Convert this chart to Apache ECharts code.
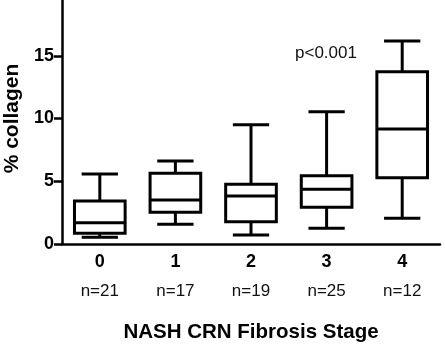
<!DOCTYPE html>
<html>
<head>
<meta charset="utf-8">
<script src="https://cdn.jsdelivr.net/npm/echarts@6/dist/echarts.min.js"></script>
<style>
  html, body { margin: 0; padding: 0; background: #fff; }
  #chart { width: 445px; height: 351px; }
</style>
</head>
<body>
<div id="chart"></div>
<script>
// fibrosis stages and sample sizes
const stages = ['0', '1', '2', '3', '4'];
const nCounts = ['n=21', 'n=17', 'n=19', 'n=25', 'n=12'];
// box plot values, % collagen
const whiskerLow = [0.53, 1.57, 0.72, 1.25, 2.05];
const q1 = [0.85, 2.52, 1.78, 2.92, 5.28];
const median = [1.70, 3.50, 3.82, 4.36, 9.16];
const q3 = [3.43, 5.63, 4.76, 5.44, 13.73];
const whiskerHigh = [5.58, 6.61, 9.50, 10.54, 16.18];
const yTicks = [0, 5, 10, 15, 20];

const FONT = '"Liberation Sans", Arial, sans-serif';

const boxData = stages.map((s, i) => [i, whiskerLow[i], q1[i], median[i], q3[i], whiskerHigh[i]]);

function renderBox(params, api) {
  const i = api.value(0);
  const band = api.size([1, 0])[0];
  const halfBox = band * 0.335;
  const halfCap = band * 0.24;
  const pLow = api.coord([i, api.value(1)]);
  const pQ1 = api.coord([i, api.value(2)]);
  const pMed = api.coord([i, api.value(3)]);
  const pQ3 = api.coord([i, api.value(4)]);
  const pHigh = api.coord([i, api.value(5)]);
  const cx = pMed[0];
  const st = { stroke: '#000', lineWidth: 3, fill: null };
  return {
    type: 'group',
    children: [
      { type: 'rect', shape: { x: cx - halfBox, y: pQ3[1], width: halfBox * 2, height: pQ1[1] - pQ3[1] }, style: st },
      { type: 'line', shape: { x1: cx - halfBox, y1: pMed[1], x2: cx + halfBox, y2: pMed[1] }, style: st },
      { type: 'line', shape: { x1: cx, y1: pQ3[1], x2: cx, y2: pHigh[1] }, style: st },
      { type: 'line', shape: { x1: cx, y1: pQ1[1], x2: cx, y2: pLow[1] }, style: st },
      { type: 'line', shape: { x1: cx - halfCap, y1: pHigh[1], x2: cx + halfCap, y2: pHigh[1] }, style: st },
      { type: 'line', shape: { x1: cx - halfCap, y1: pLow[1], x2: cx + halfCap, y2: pLow[1] }, style: st }
    ]
  };
}

const chart = echarts.init(document.getElementById('chart'));
chart.setOption({
  animation: false,
  grid: { left: 62, right: 5, top: -7, bottom: 107, containLabel: false, outerBoundsMode: 'none' },
  xAxis: {
    type: 'category',
    data: stages,
    boundaryGap: true,
    axisLine: { lineStyle: { color: '#000', width: 2.5 } },
    axisTick: { alignWithLabel: true, length: 6, lineStyle: { color: '#000', width: 2.5 } },
    axisLabel: {
      margin: 7,
      interval: 0,
      formatter: (v, i) => '{s|' + v + '}\n{n|' + nCounts[i] + '}',
      rich: {
        s: { fontFamily: FONT, fontSize: 18, fontWeight: 'bold', color: '#000', lineHeight: 22 },
        n: { fontFamily: FONT, fontSize: 17, color: '#111', lineHeight: 36 }
      }
    },
    name: 'NASH CRN Fibrosis Stage',
    nameLocation: 'middle',
    nameGap: 78,
    nameTextStyle: { fontFamily: FONT, fontSize: 20.5, fontWeight: 'bold', color: '#000' }
  },
  yAxis: {
    type: 'value',
    min: yTicks[0],
    max: yTicks[yTicks.length - 1],
    interval: 5,
    splitLine: { show: false },
    axisLine: { show: true, lineStyle: { color: '#000', width: 2.5 } },
    axisTick: { show: true, length: 8, lineStyle: { color: '#000', width: 2.5 } },
    axisLabel: { margin: 8, fontFamily: FONT, fontSize: 18, fontWeight: 'bold', color: '#000' },
    name: '% collagen',
    nameLocation: 'middle',
    nameGap: 39,
    nameTextStyle: { fontFamily: FONT, fontSize: 21, fontWeight: 'bold', color: '#000' }
  },
  graphic: [
    {
      type: 'text', left: 295, top: 45,
      style: { text: 'p<0.001', fontFamily: FONT, fontSize: 17, fill: '#111' }
    }
  ],
  series: [{
    type: 'custom',
    renderItem: renderBox,
    data: boxData,
    encode: { x: 0, y: [1, 2, 3, 4, 5] },
    clip: false
  }]
});
</script>
</body>
</html>
